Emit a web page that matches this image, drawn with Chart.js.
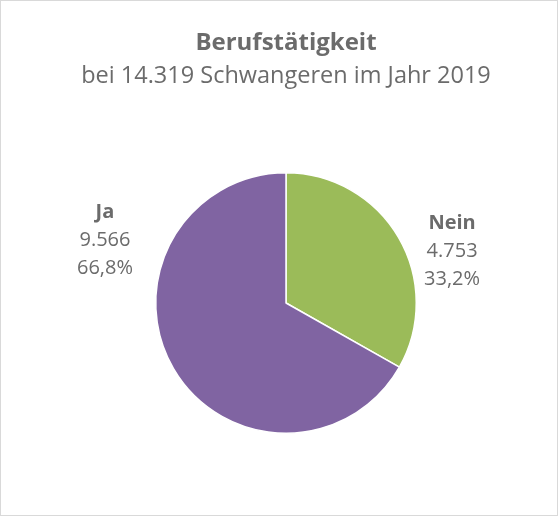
<!DOCTYPE html>
<html>
<head>
<meta charset="UTF-8">
<script src="https://cdn.jsdelivr.net/npm/chart.js"></script>
<style>
  html, body { margin: 0; padding: 0; background: #fff; }
  .frame { width: 558px; height: 516px; box-sizing: border-box; border: 1px solid #d9d9d9; }
  canvas { display: block; }
</style>
</head>
<body>
<div class="frame"><canvas id="pie" width="556" height="514"></canvas></div>
<script>
  const categories = ['Nein', 'Ja'];
  const counts = [4753, 9566];
  const shares = ['33,2%', '66,8%'];
  const countLabels = ['4.753', '9.566'];
  const colors = ['#9BBB59', '#8064A2'];
  // label placement relative to pie centre, in radius units
  const labelOffsets = [[1.275, -0.40], [-1.39, -0.48]];

  const textGray = '#6b6b6b';
  const font = '"Open Sans", sans-serif';

  const pieLabels = {
    id: 'pieLabels',
    afterDatasetsDraw(chart) {
      const ctx = chart.ctx;
      const arcs = chart.getDatasetMeta(0).data;
      ctx.save();
      ctx.fillStyle = textGray;
      ctx.textAlign = 'center';
      ctx.textBaseline = 'middle';
      arcs.forEach((arc, i) => {
        const r = arc.outerRadius;
        const x = arc.x + labelOffsets[i][0] * r;
        const y = arc.y + labelOffsets[i][1] * r;
        ctx.font = 'bold 20px ' + font;
        ctx.fillText(categories[i], x, y - 28);
        ctx.font = '20px ' + font;
        ctx.fillText(countLabels[i], x, y);
        ctx.fillText(shares[i], x, y + 28);
      });
      ctx.restore();
    }
  };

  new Chart(document.getElementById('pie'), {
    type: 'pie',
    data: {
      labels: categories,
      datasets: [{
        data: counts,
        backgroundColor: colors,
        borderColor: '#ffffff',
        borderWidth: 1.5
      }]
    },
    options: {
      responsive: false,
      animation: false,
      layout: { padding: { top: 0, bottom: 81, left: 14, right: 0 } },
      plugins: {
        legend: { display: false },
        tooltip: { enabled: false },
        title: {
          display: true,
          text: 'Berufstätigkeit',
          color: textGray,
          font: { family: font, size: 24, weight: 'bold' },
          padding: { top: 28, bottom: 4 }
        },
        subtitle: {
          display: true,
          text: 'bei 14.319 Schwangeren im Jahr 2019',
          color: textGray,
          font: { family: font, size: 23.5 },
          padding: { bottom: 82 }
        }
      }
    },
    plugins: [pieLabels]
  });
</script>
</body>
</html>
